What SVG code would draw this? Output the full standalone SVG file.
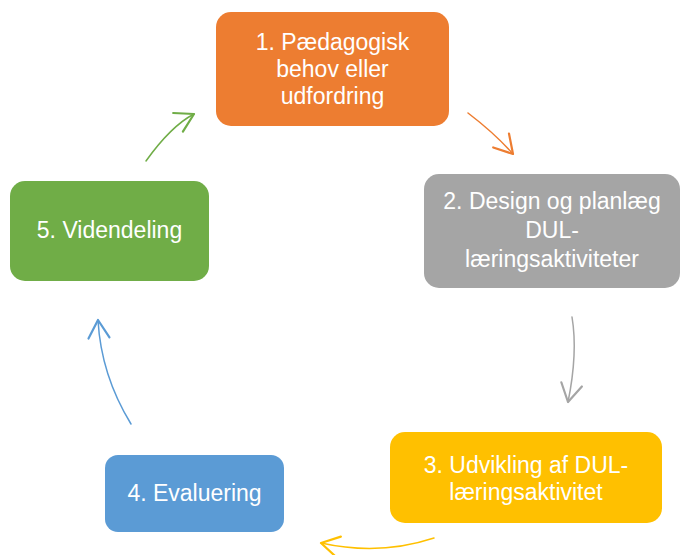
<svg xmlns="http://www.w3.org/2000/svg" width="682" height="555" viewBox="0 0 682 555">
<style>
.box{stroke:none}
.lbl{font-family:"Liberation Sans",Arial,sans-serif;font-size:23px;fill:#ffffff;text-anchor:middle}
.arr{fill:none;stroke-width:1.5;stroke-linecap:round}
.head{fill:none;stroke-width:2.2;stroke-linecap:round;stroke-linejoin:round}
</style>
<defs>
<marker id="mOr" markerUnits="userSpaceOnUse" orient="auto" refX="0" refY="0" markerWidth="40" markerHeight="40" viewBox="-25 -20 30 40" overflow="visible"><path class="head" stroke="#ED7D31" d="M-18,-10.5 L0,0 L-18,10.5"/></marker>
<marker id="mGr" markerUnits="userSpaceOnUse" orient="auto" refX="0" refY="0" markerWidth="40" markerHeight="40" viewBox="-25 -20 30 40" overflow="visible"><path class="head" stroke="#A5A5A5" d="M-18,-10.5 L0,0 L-18,10.5"/></marker>
<marker id="mYe" markerUnits="userSpaceOnUse" orient="auto" refX="0" refY="0" markerWidth="40" markerHeight="40" viewBox="-25 -20 30 40" overflow="visible"><path class="head" stroke="#FFC000" d="M-18,-10.5 L0,0 L-18,10.5"/></marker>
<marker id="mBl" markerUnits="userSpaceOnUse" orient="auto" refX="0" refY="0" markerWidth="40" markerHeight="40" viewBox="-25 -20 30 40" overflow="visible"><path class="head" stroke="#5B9BD5" d="M-18,-10.5 L0,0 L-18,10.5"/></marker>
<marker id="mGn" markerUnits="userSpaceOnUse" orient="auto" refX="0" refY="0" markerWidth="40" markerHeight="40" viewBox="-25 -20 30 40" overflow="visible"><path class="head" stroke="#70AD47" d="M-18,-10.5 L0,0 L-18,10.5"/></marker>
</defs>
<rect width="682" height="555" fill="#ffffff"/>
<g id="node1">
<rect class="box" x="216" y="12" width="233" height="114" rx="15" fill="#ED7D31"/>
<text class="lbl" x="332.5" y="50">1. Pædagogisk</text>
<text class="lbl" x="332.5" y="77">behov eller</text>
<text class="lbl" x="332.5" y="104">udfordring</text>
</g>
<g id="node2">
<rect class="box" x="424" y="174" width="256" height="114" rx="15" fill="#A5A5A5"/>
<text class="lbl" x="552" y="209">2. Design og planlæg</text>
<text class="lbl" x="552" y="238">DUL-</text>
<text class="lbl" x="552" y="267">læringsaktiviteter</text>
</g>
<g id="node3">
<rect class="box" x="390" y="432" width="272" height="91" rx="15" fill="#FFC000"/>
<text class="lbl" x="526" y="473">3. Udvikling af DUL-</text>
<text class="lbl" x="526" y="500">læringsaktivitet</text>
</g>
<g id="node4">
<rect class="box" x="105" y="455" width="179" height="77" rx="13" fill="#5B9BD5"/>
<text class="lbl" x="194.5" y="501">4. Evaluering</text>
</g>
<g id="node5">
<rect class="box" x="10" y="181" width="199" height="100" rx="15" fill="#70AD47"/>
<text class="lbl" x="109.5" y="238">5. Videndeling</text>
</g>
<g id="connectors">
<path class="arr" stroke="#ED7D31" d="M468,113 Q495,133.6 513,154" marker-end="url(#mOr)"/>
<path class="arr" stroke="#A5A5A5" d="M572,317 Q578,353 568,402" marker-end="url(#mGr)"/>
<path class="arr" stroke="#FFC000" d="M434,538 Q379.6,556 321,543" marker-end="url(#mYe)"/>
<path class="arr" stroke="#5B9BD5" d="M131,424 Q101,375 98,320" marker-end="url(#mBl)"/>
<path class="arr" stroke="#70AD47" d="M146,161 Q171,126 194,114" marker-end="url(#mGn)"/>
</g>
</svg>
